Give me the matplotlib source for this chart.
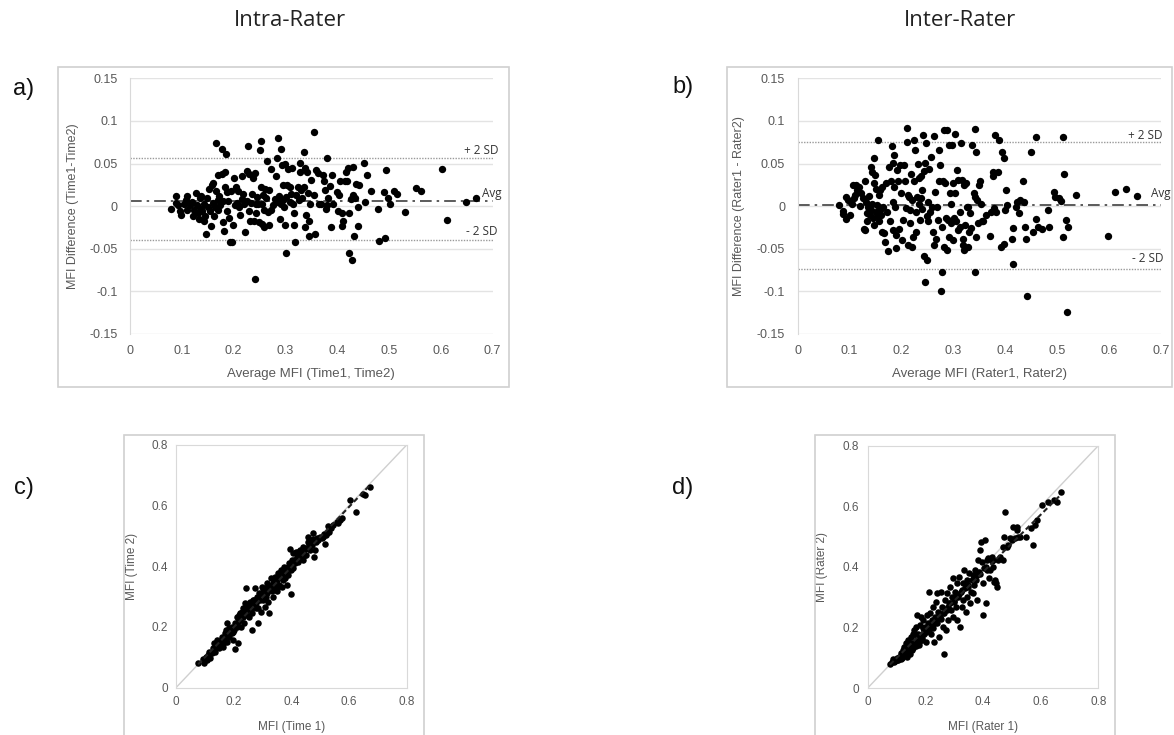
import numpy as np
import matplotlib
matplotlib.use('Agg')
import matplotlib.pyplot as plt
from matplotlib.patches import Rectangle
from matplotlib.ticker import FuncFormatter

plt.rcParams['font.family'] = ['Liberation Sans', 'DejaVu Sans']
plt.rcParams['axes.unicode_minus'] = False

# ---- intra-rater Bland-Altman (Time1 vs Time2) ----
a_avg = [0.079, 0.088, 0.089, 0.093, 0.097, 0.098, 0.104, 0.108, 0.111, 0.111,
         0.115, 0.119, 0.121, 0.124, 0.127, 0.129, 0.131, 0.133, 0.135, 0.137,
         0.138, 0.140, 0.142, 0.143, 0.145, 0.147, 0.149, 0.151, 0.152, 0.154,
         0.156, 0.158, 0.160, 0.161, 0.162, 0.165, 0.166, 0.167, 0.169, 0.169,
         0.170, 0.172, 0.174, 0.177, 0.178, 0.179, 0.180, 0.182, 0.183, 0.184,
         0.185, 0.187, 0.188, 0.190, 0.192, 0.193, 0.195, 0.197, 0.198, 0.201,
         0.203, 0.205, 0.207, 0.208, 0.210, 0.212, 0.216, 0.217, 0.219, 0.221,
         0.223, 0.225, 0.226, 0.228, 0.229, 0.230, 0.232, 0.234, 0.236, 0.238,
         0.239, 0.241, 0.242, 0.243, 0.244, 0.246, 0.248, 0.250, 0.251, 0.252,
         0.253, 0.254, 0.255, 0.257, 0.258, 0.259, 0.261, 0.262, 0.265, 0.266,
         0.268, 0.269, 0.272, 0.273, 0.277, 0.279, 0.281, 0.283, 0.285, 0.286,
         0.288, 0.290, 0.291, 0.292, 0.293, 0.295, 0.296, 0.298, 0.299, 0.300,
         0.301, 0.302, 0.304, 0.306, 0.308, 0.309, 0.311, 0.313, 0.314, 0.316,
         0.317, 0.319, 0.320, 0.324, 0.326, 0.328, 0.329, 0.331, 0.333, 0.335,
         0.336, 0.337, 0.338, 0.340, 0.342, 0.344, 0.345, 0.346, 0.347, 0.349,
         0.355, 0.356, 0.358, 0.360, 0.362, 0.364, 0.368, 0.372, 0.374, 0.376,
         0.378, 0.380, 0.381, 0.383, 0.386, 0.388, 0.390, 0.392, 0.399, 0.401,
         0.404, 0.406, 0.409, 0.410, 0.412, 0.415, 0.417, 0.419, 0.421, 0.423,
         0.423, 0.426, 0.428, 0.430, 0.431, 0.433, 0.435, 0.437, 0.440, 0.441,
         0.443, 0.452, 0.454, 0.457, 0.466, 0.479, 0.480, 0.490, 0.492, 0.494,
         0.499, 0.502, 0.510, 0.515, 0.530, 0.553, 0.561, 0.603, 0.611, 0.648, 0.667]
a_diff = [-0.003, 0.012, 0.004, 0.001, -0.006, -0.010, 0.003, 0.007, 0.012, -0.005,
          0.001, 0.005, -0.012, -0.005, 0.015, 0.001, -0.008, -0.015, 0.009, -0.003,
          0.012, -0.006, -0.018, 0.003, -0.011, -0.033, 0.009, -0.001, 0.020, -0.006,
          -0.023, 0.025, 0.004, 0.027, -0.012, -0.001, 0.018, 0.074, 0.007, 0.037,
          -0.005, 0.012, 0.001, 0.067, 0.038, 0.006, -0.019, -0.029, 0.022, 0.040,
          0.061, -0.006, 0.016, 0.006, -0.014, -0.042, 0.018, -0.042, -0.022, 0.033,
          0.001, 0.022, 0.004, 0.018, -0.001, -0.010, 0.035, 0.008, 0.014, 0.003,
          -0.030, 0.041, 0.006, 0.071, -0.006, 0.038, -0.017, 0.004, 0.014, 0.033,
          -0.018, 0.039, -0.085, 0.003, -0.008, 0.011, 0.003, -0.019, 0.066, 0.076,
          0.023, 0.003, -0.021, 0.013, -0.024, -0.005, 0.020, 0.009, 0.053, -0.007,
          -0.022, 0.019, 0.043, -0.005, 0.001, 0.008, 0.035, 0.056, 0.080, 0.005,
          0.012, -0.015, 0.067, 0.002, 0.048, 0.007, 0.025, -0.001, 0.050, -0.022,
          -0.055, 0.011, 0.025, 0.043, 0.005, 0.023, 0.014, 0.045, 0.003, -0.008,
          -0.022, -0.042, 0.013, 0.023, 0.007, 0.051, 0.040, 0.019, 0.010, 0.064,
          0.022, -0.025, 0.045, -0.010, 0.040, 0.015, -0.017, -0.035, 0.002, 0.031,
          0.087, 0.013, -0.033, 0.042, 0.039, 0.002, 0.002, 0.036, 0.030, 0.019,
          -0.003, 0.057, 0.001, 0.009, 0.024, -0.025, 0.036, 0.003, 0.017, -0.006,
          0.013, 0.029, -0.008, -0.023, -0.017, 0.029, 0.040, 0.029, 0.045, -0.008,
          -0.055, 0.008, -0.063, 0.046, 0.013, -0.035, 0.009, 0.026, -0.023, -0.001,
          0.025, 0.051, 0.005, 0.036, 0.018, -0.003, -0.041, 0.016, -0.037, 0.042,
          0.010, 0.003, 0.018, 0.014, -0.007, 0.021, 0.018, 0.044, -0.016, 0.005, 0.010]
a_mean, a_hi, a_lo = 0.0057, 0.0562, -0.0397

# ---- inter-rater Bland-Altman (Rater1 vs Rater2) ----
b_avg = [0.080, 0.087, 0.088, 0.093, 0.094, 0.096, 0.101, 0.103, 0.104, 0.106,
         0.108, 0.111, 0.112, 0.114, 0.118, 0.120, 0.122, 0.125, 0.127, 0.129,
         0.130, 0.131, 0.133, 0.134, 0.136, 0.138, 0.139, 0.141, 0.141, 0.143,
         0.144, 0.145, 0.147, 0.147, 0.148, 0.149, 0.150, 0.151, 0.152, 0.154,
         0.154, 0.156, 0.157, 0.158, 0.159, 0.161, 0.162, 0.163, 0.165, 0.167,
         0.168, 0.170, 0.172, 0.175, 0.176, 0.178, 0.180, 0.181, 0.183, 0.183,
         0.184, 0.186, 0.186, 0.188, 0.189, 0.190, 0.192, 0.194, 0.196, 0.198,
         0.199, 0.202, 0.203, 0.204, 0.206, 0.208, 0.210, 0.211, 0.213, 0.213,
         0.215, 0.216, 0.217, 0.219, 0.220, 0.221, 0.222, 0.224, 0.225, 0.226,
         0.228, 0.229, 0.230, 0.231, 0.233, 0.234, 0.235, 0.237, 0.238, 0.239,
         0.240, 0.242, 0.244, 0.244, 0.246, 0.246, 0.247, 0.249, 0.250, 0.251,
         0.252, 0.253, 0.255, 0.257, 0.258, 0.260, 0.262, 0.263, 0.265, 0.267,
         0.269, 0.270, 0.272, 0.273, 0.275, 0.276, 0.278, 0.279, 0.281, 0.282,
         0.283, 0.284, 0.285, 0.287, 0.288, 0.289, 0.291, 0.292, 0.294, 0.295,
         0.296, 0.298, 0.299, 0.300, 0.301, 0.303, 0.304, 0.305, 0.307, 0.309,
         0.310, 0.312, 0.313, 0.314, 0.316, 0.318, 0.319, 0.320, 0.321, 0.323,
         0.325, 0.326, 0.328, 0.329, 0.330, 0.332, 0.334, 0.336, 0.339, 0.341,
         0.342, 0.342, 0.343, 0.344, 0.345, 0.348, 0.350, 0.352, 0.353, 0.355,
         0.358, 0.364, 0.371, 0.373, 0.376, 0.377, 0.379, 0.381, 0.382, 0.386,
         0.388, 0.392, 0.393, 0.397, 0.398, 0.400, 0.401, 0.403, 0.413, 0.415,
         0.416, 0.420, 0.423, 0.426, 0.429, 0.435, 0.437, 0.438, 0.440, 0.443,
         0.449, 0.453, 0.459, 0.460, 0.464, 0.471, 0.483, 0.485, 0.495, 0.496,
         0.503, 0.508, 0.512, 0.512, 0.514, 0.517, 0.519, 0.522, 0.537, 0.599,
         0.612, 0.633, 0.655]
b_diff = [0.001, -0.006, -0.009, -0.015, 0.011, 0.007, -0.010, 0.005, 0.003, 0.025,
          0.009, 0.013, 0.025, 0.019, 0.023, 0.000, 0.015, 0.009, -0.027, 0.029,
          -0.028, 0.005, -0.008, -0.018, -0.001, 0.012, -0.010, 0.046, -0.005, 0.040,
          0.003, -0.014, 0.057, 0.027, -0.022, 0.037, -0.007, 0.020, 0.001, 0.078,
          -0.012, 0.013, -0.018, -0.005, 0.019, -0.010, -0.030, 0.023, -0.001, -0.031,
          -0.042, 0.027, -0.007, -0.053, 0.046, -0.018, 0.029, 0.071, 0.005, -0.028,
          0.051, 0.023, 0.060, -0.001, -0.049, -0.034, 0.042, 0.029, -0.027, 0.048,
          0.015, -0.040, -0.016, 0.048, 0.029, -0.002, 0.075, 0.092, 0.013, -0.046,
          0.011, -0.005, -0.020, 0.038, -0.048, 0.007, -0.036, 0.029, 0.078, 0.066,
          -0.007, -0.030, 0.011, 0.050, 0.003, 0.033, -0.016, 0.009, 0.035, -0.003,
          0.019, 0.084, 0.041, -0.059, 0.051, -0.089, 0.074, -0.063, -0.012, 0.005,
          -0.018, 0.044, -0.007, 0.058, -0.001, -0.030, 0.082, -0.046, 0.017, -0.038,
          -0.001, -0.016, 0.029, 0.066, 0.048, -0.100, -0.077, -0.024, 0.029, -0.048,
          0.089, 0.027, -0.014, -0.052, 0.089, -0.016, -0.036, 0.072, 0.015, -0.020,
          0.003, 0.072, -0.040, 0.027, -0.014, 0.015, 0.085, -0.018, 0.042, -0.028,
          0.031, -0.007, -0.024, 0.074, 0.031, -0.046, -0.038, -0.052, 0.025, -0.022,
          0.027, -0.001, -0.048, -0.001, -0.030, -0.008, -0.026, 0.072, 0.015, 0.011,
          0.091, -0.077, 0.063, -0.036, 0.007, -0.020, 0.025, 0.030, 0.003, -0.017,
          -0.018, -0.010, -0.035, -0.007, 0.035, 0.040, -0.002, 0.084, -0.007, 0.040,
          0.078, -0.048, 0.064, -0.044, 0.057, -0.004, 0.019, 0.001, -0.039, -0.026,
          -0.068, -0.001, 0.005, -0.008, 0.007, 0.029, 0.005, -0.024, -0.038, -0.105,
          0.064, -0.030, 0.081, -0.015, -0.025, -0.027, -0.005, -0.024, 0.017, 0.011,
          0.009, 0.006, 0.081, -0.036, 0.038, -0.016, -0.124, -0.025, 0.013, -0.035,
          0.016, 0.020, 0.012]
b_mean, b_hi, b_lo = 0.001, 0.075, -0.0737

# ---- intra-rater scatter: Time 1 vs Time 2 ----
c_t1 = [0.077, 0.092, 0.097, 0.104, 0.112, 0.116, 0.124, 0.129, 0.132, 0.139,
        0.143, 0.147, 0.153, 0.158, 0.162, 0.166, 0.170, 0.173, 0.176, 0.178,
        0.181, 0.185, 0.187, 0.193, 0.196, 0.199, 0.205, 0.208, 0.210, 0.214,
        0.216, 0.220, 0.222, 0.224, 0.228, 0.231, 0.233, 0.237, 0.239, 0.243,
        0.245, 0.247, 0.251, 0.254, 0.257, 0.259, 0.262, 0.265, 0.268, 0.270,
        0.274, 0.276, 0.280, 0.283, 0.285, 0.288, 0.291, 0.294, 0.297, 0.301,
        0.303, 0.305, 0.309, 0.312, 0.314, 0.317, 0.320, 0.324, 0.326, 0.328,
        0.332, 0.335, 0.337, 0.340, 0.343, 0.347, 0.349, 0.351, 0.355, 0.358,
        0.361, 0.364, 0.366, 0.370, 0.372, 0.376, 0.378, 0.381, 0.384, 0.386,
        0.390, 0.393, 0.395, 0.398, 0.399, 0.401, 0.405, 0.407, 0.410, 0.413,
        0.416, 0.418, 0.422, 0.424, 0.428, 0.430, 0.433, 0.436, 0.439, 0.442,
        0.445, 0.447, 0.451, 0.453, 0.457, 0.459, 0.462, 0.467, 0.470, 0.474,
        0.476, 0.479, 0.482, 0.485, 0.488, 0.494, 0.499, 0.505, 0.509, 0.513,
        0.517, 0.520, 0.525, 0.528, 0.532, 0.536, 0.543, 0.557, 0.563, 0.569,
        0.574, 0.603, 0.626, 0.647, 0.655, 0.673,
        0.118, 0.106, 0.135, 0.150, 0.155, 0.164, 0.170, 0.185, 0.193, 0.201,
        0.205, 0.210, 0.222, 0.231, 0.239, 0.245, 0.254, 0.262, 0.270, 0.277,
        0.285, 0.294, 0.303, 0.312, 0.320, 0.332, 0.340, 0.349, 0.358, 0.366,
        0.378, 0.390, 0.401, 0.416, 0.430, 0.447, 0.465]
c_t2 = [0.080, 0.093, 0.080, 0.102, 0.108, 0.119, 0.113, 0.130, 0.148, 0.135,
        0.157, 0.141, 0.152, 0.168, 0.148, 0.163, 0.179, 0.190, 0.152, 0.212,
        0.174, 0.196, 0.179, 0.201, 0.185, 0.157, 0.126, 0.207, 0.234, 0.218,
        0.148, 0.240, 0.223, 0.201, 0.251, 0.234, 0.262, 0.212, 0.278, 0.328,
        0.240, 0.256, 0.273, 0.234, 0.284, 0.262, 0.245, 0.190, 0.289, 0.267,
        0.328, 0.278, 0.300, 0.262, 0.212, 0.311, 0.289, 0.251, 0.333, 0.317,
        0.289, 0.300, 0.267, 0.328, 0.311, 0.344, 0.284, 0.245, 0.333, 0.360,
        0.317, 0.344, 0.300, 0.328, 0.366, 0.344, 0.317, 0.328, 0.377, 0.338,
        0.366, 0.388, 0.333, 0.355, 0.371, 0.399, 0.360, 0.382, 0.338, 0.393,
        0.371, 0.410, 0.456, 0.388, 0.309, 0.421, 0.443, 0.393, 0.421, 0.410,
        0.448, 0.432, 0.415, 0.448, 0.437, 0.454, 0.426, 0.443, 0.465, 0.421,
        0.437, 0.456, 0.437, 0.459, 0.481, 0.498, 0.470, 0.481, 0.470, 0.511,
        0.489, 0.432, 0.454, 0.481, 0.492, 0.487, 0.498, 0.492, 0.495, 0.506,
        0.474, 0.503, 0.509, 0.533, 0.514, 0.525, 0.536, 0.545, 0.542, 0.553,
        0.558, 0.619, 0.580, 0.640, 0.635, 0.660,
        0.097, 0.091, 0.119, 0.130, 0.141, 0.135, 0.152, 0.168, 0.179, 0.190,
        0.212, 0.201, 0.245, 0.251, 0.245, 0.267, 0.267, 0.278, 0.289, 0.262,
        0.289, 0.306, 0.311, 0.300, 0.322, 0.338, 0.355, 0.355, 0.371, 0.382,
        0.388, 0.399, 0.399, 0.421, 0.432, 0.437, 0.454]

# ---- inter-rater scatter: Rater 1 vs Rater 2 ----
d_r1 = [0.077, 0.083, 0.089, 0.095, 0.100, 0.106, 0.112, 0.114, 0.118, 0.121,
        0.124, 0.126, 0.129, 0.133, 0.135, 0.137, 0.141, 0.144, 0.147, 0.149,
        0.153, 0.156, 0.158, 0.161, 0.164, 0.168, 0.170, 0.172, 0.176, 0.179,
        0.181, 0.184, 0.187, 0.191, 0.193, 0.195, 0.199, 0.202, 0.205, 0.207,
        0.210, 0.214, 0.216, 0.218, 0.222, 0.225, 0.228, 0.230, 0.233, 0.237,
        0.239, 0.242, 0.245, 0.249, 0.251, 0.253, 0.257, 0.260, 0.262, 0.265,
        0.268, 0.272, 0.274, 0.276, 0.280, 0.283, 0.286, 0.288, 0.291, 0.295,
        0.297, 0.299, 0.303, 0.306, 0.309, 0.311, 0.314, 0.318, 0.320, 0.322,
        0.326, 0.329, 0.332, 0.334, 0.338, 0.341, 0.343, 0.346, 0.349, 0.353,
        0.355, 0.357, 0.361, 0.364, 0.366, 0.369, 0.372, 0.376, 0.378, 0.380,
        0.384, 0.387, 0.390, 0.392, 0.395, 0.399, 0.401, 0.403, 0.407, 0.410,
        0.413, 0.415, 0.419, 0.422, 0.424, 0.430, 0.434, 0.436, 0.438, 0.442,
        0.445, 0.447, 0.453, 0.459, 0.468, 0.471, 0.473, 0.476, 0.482, 0.488,
        0.494, 0.499, 0.505, 0.511, 0.517, 0.519, 0.523, 0.528, 0.567, 0.572,
        0.580, 0.586, 0.604, 0.627, 0.647, 0.656, 0.671, 0.550,
        0.092, 0.103, 0.108, 0.116, 0.122, 0.127, 0.131, 0.139, 0.143, 0.151,
        0.155, 0.163, 0.168, 0.174, 0.178, 0.186, 0.189, 0.197, 0.203, 0.209,
        0.213, 0.219, 0.224, 0.232, 0.238, 0.247, 0.255, 0.263, 0.271, 0.279,
        0.287, 0.298, 0.308, 0.317, 0.327, 0.348, 0.368, 0.388, 0.409, 0.431]
d_r2 = [0.079, 0.087, 0.095, 0.089, 0.098, 0.092, 0.103, 0.117, 0.098, 0.125,
        0.109, 0.136, 0.120, 0.150, 0.103, 0.131, 0.158, 0.142, 0.114, 0.169,
        0.150, 0.180, 0.131, 0.192, 0.153, 0.203, 0.241, 0.169, 0.180, 0.142,
        0.208, 0.236, 0.158, 0.197, 0.225, 0.180, 0.203, 0.153, 0.241, 0.192,
        0.214, 0.318, 0.247, 0.180, 0.225, 0.197, 0.269, 0.153, 0.236, 0.285,
        0.214, 0.313, 0.252, 0.169, 0.230, 0.318, 0.269, 0.203, 0.247, 0.114,
        0.291, 0.192, 0.258, 0.313, 0.225, 0.280, 0.335, 0.258, 0.302, 0.362,
        0.236, 0.285, 0.318, 0.269, 0.346, 0.225, 0.302, 0.368, 0.203, 0.318,
        0.269, 0.346, 0.291, 0.390, 0.329, 0.252, 0.357, 0.302, 0.335, 0.379,
        0.280, 0.318, 0.357, 0.313, 0.373, 0.340, 0.390, 0.357, 0.291, 0.373,
        0.423, 0.384, 0.456, 0.483, 0.417, 0.241, 0.346, 0.395, 0.489, 0.280,
        0.390, 0.423, 0.428, 0.362, 0.390, 0.434, 0.401, 0.423, 0.351, 0.357,
        0.346, 0.335, 0.423, 0.434, 0.467, 0.423, 0.500, 0.582, 0.467, 0.472,
        0.494, 0.489, 0.533, 0.494, 0.522, 0.533, 0.500, 0.500, 0.527, 0.472,
        0.538, 0.555, 0.604, 0.615, 0.621, 0.615, 0.648, 0.500,
        0.086, 0.091, 0.101, 0.096, 0.111, 0.118, 0.126, 0.121, 0.136, 0.141,
        0.127, 0.148, 0.139, 0.162, 0.151, 0.171, 0.166, 0.188, 0.184, 0.199,
        0.191, 0.208, 0.201, 0.216, 0.221, 0.238, 0.229, 0.249, 0.262, 0.268,
        0.281, 0.288, 0.301, 0.309, 0.322, 0.341, 0.362, 0.378, 0.401, 0.418]

TICK_C = '#595959'
GRID_C = '#e3e3e3'
fmt = FuncFormatter(lambda v, p: '%g' % v)

fig = plt.figure(figsize=(11.74, 7.35), dpi=100)

# light frames around each chart
for x0, y0, w, h in [(0.0494, 0.4739, 0.3842, 0.4349), (0.6193, 0.4739, 0.3790, 0.4349),
                     (0.1056, -0.01, 0.2555, 0.4187), (0.6942, -0.01, 0.2555, 0.4187)]:
    fig.patches.append(Rectangle((x0, y0), w, h, transform=fig.transFigure,
                                 fill=False, edgecolor='#d0d0d0', lw=1.2))


def bland_altman(ax, avg, diff, mean_d, hi, lo, xlabel, ylabel, txt_pos):
    ax.set_xlim(0, 0.7)
    ax.set_ylim(-0.15, 0.15)
    ax.set_xticks([0, 0.1, 0.2, 0.3, 0.4, 0.5, 0.6, 0.7])
    ax.set_yticks([-0.15, -0.1, -0.05, 0, 0.05, 0.1, 0.15])
    ax.xaxis.set_major_formatter(fmt)
    ax.yaxis.set_major_formatter(fmt)
    ax.tick_params(length=0, labelsize=9, labelcolor=TICK_C)
    ax.tick_params(axis='y', pad=9)
    ax.tick_params(axis='x', pad=8)
    for s in ['top', 'right', 'bottom']:
        ax.spines[s].set_visible(False)
    ax.spines['left'].set_color('#d9d9d9')
    ax.grid(axis='y', color=GRID_C, lw=1)
    ax.set_axisbelow(True)
    ax.axhline(hi, color='#9a9a9a', lw=1, ls=(0, (1, 1)))
    ax.axhline(lo, color='#9a9a9a', lw=1, ls=(0, (1, 1)))
    ax.axhline(mean_d, color='#404040', lw=1.2, ls=(0, (7, 3, 1.5, 3)))
    ax.scatter(avg, diff, s=28, color='black', linewidths=0, zorder=3)
    for (xf, yv), t in zip(txt_pos, ['+ 2 SD', 'Avg', '- 2 SD']):
        ax.text(xf, yv, t, transform=ax.get_yaxis_transform(), ha='right', va='center',
                fontsize=8.5, color='#333333', family=['Open Sans', 'DejaVu Sans'], clip_on=False)
    ax.set_xlabel(xlabel, fontsize=9.5, color=TICK_C)
    ax.set_ylabel(ylabel, fontsize=9, color=TICK_C)


def agreement(ax, x, y, xlabel, ylabel):
    ax.set_xlim(0, 0.8)
    ax.set_ylim(0, 0.8)
    ax.set_xticks([0, 0.2, 0.4, 0.6, 0.8])
    ax.set_yticks([0, 0.2, 0.4, 0.6, 0.8])
    ax.xaxis.set_major_formatter(fmt)
    ax.yaxis.set_major_formatter(fmt)
    ax.tick_params(length=0, labelsize=8.5, labelcolor=TICK_C, pad=6)
    for s in ax.spines.values():
        s.set_color('#d9d9d9')
    ax.plot([0, 0.8], [0, 0.8], color='#cfcfcf', lw=1, zorder=1)
    ax.scatter(x, y, s=22, color='black', linewidths=0, zorder=3)
    k, b = np.polyfit(x, y, 1)
    xs = np.array([min(x), max(x)])
    ax.plot(xs, k * xs + b, color='#222222', lw=1.5, ls=(0, (2.5, 1.5)), zorder=4)
    ax.set_xlabel(xlabel, fontsize=8.5, color=TICK_C)
    ax.set_ylabel(ylabel, fontsize=8.5, color=TICK_C)


ax_a = fig.add_axes([0.1107, 0.5456, 0.3089, 0.3479])
bland_altman(ax_a, a_avg, a_diff, a_mean, a_hi, a_lo,
             'Average MFI (Time1, Time2)', 'MFI Difference (Time1-Time2)',
             [(1.017, a_hi + 0.009), (1.025, a_mean + 0.0094), (1.014, a_lo + 0.0094)])
ax_a.yaxis.set_label_coords(-0.14, 0.5)
ax_a.xaxis.set_label_coords(0.5, -0.133)

ax_b = fig.add_axes([0.6795, 0.5456, 0.3092, 0.3479])
bland_altman(ax_b, b_avg, b_diff, b_mean, b_hi, b_lo,
             'Average MFI (Rater1, Rater2)', 'MFI Difference (Rater1 - Rater2)',
             [(1.006, b_hi + 0.0074), (1.028, b_mean + 0.014), (1.007, b_lo + 0.012)])
ax_b.yaxis.set_label_coords(-0.145, 0.5)
ax_b.xaxis.set_label_coords(0.5, -0.133)

ax_c = fig.add_axes([0.1499, 0.0644, 0.1965, 0.3302])
agreement(ax_c, c_t1, c_t2, 'MFI (Time 1)', 'MFI (Time 2)')
ax_c.yaxis.set_label_coords(-0.165, 0.5)
ax_c.xaxis.set_label_coords(0.5, -0.137)

ax_d = fig.add_axes([0.7391, 0.0639, 0.1964, 0.3297])
agreement(ax_d, d_r1, d_r2, 'MFI (Rater 1)', 'MFI (Rater 2)')
ax_d.yaxis.set_label_coords(-0.172, 0.5)
ax_d.xaxis.set_label_coords(0.5, -0.137)

# column headings and panel letters
fig.text(0.247, 0.972, 'Intra-Rater', ha='center', va='center', fontsize=16,
         family=['Open Sans', 'DejaVu Sans'], color='#222222')
fig.text(0.8177, 0.972, 'Inter-Rater', ha='center', va='center', fontsize=16,
         family=['Open Sans', 'DejaVu Sans'], color='#222222')
for x, y, t in [(0.020, 0.879, 'a)'), (0.5818, 0.8816, 'b)'),
                (0.020, 0.3366, 'c)'), (0.5818, 0.3366, 'd)')]:
    fig.text(x, y, t, ha='center', va='center', fontsize=17, color='#111111')

fig.savefig('out.png', dpi=100, facecolor='white')
